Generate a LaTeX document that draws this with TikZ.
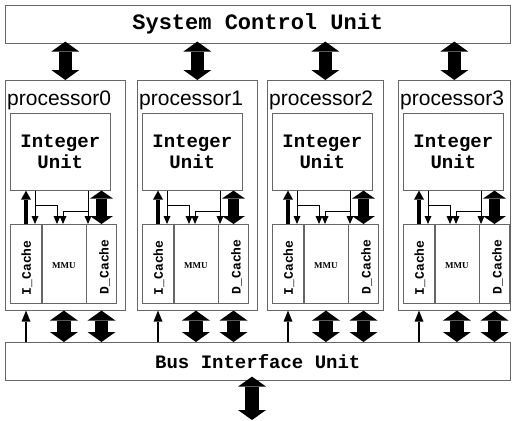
\documentclass[tikz,border=0pt]{standalone}
\usepackage{fontspec}
\setmainfont{Liberation Sans}
\newfontfamily\monofont{Liberation Mono}
\newfontfamily\serfont{Liberation Serif}
\usetikzlibrary{positioning}
\usetikzlibrary{arrows.meta}

\tikzstyle{unit}=[rectangle,draw=black!60,line width=0.6pt,inner sep=0pt]
\tikzstyle{mono}=[font=\monofont\bfseries,inner sep=0pt]
\tikzstyle{fatbus}=[line width=13.5pt,
    {Triangle[width=28pt,length=10pt,line width=0pt]}-{Triangle[width=28pt,length=10pt,line width=0pt]}]
\tikzstyle{databus}=[line width=11pt,
    {Triangle[width=23pt,length=8pt,line width=0pt]}-{Triangle[width=23pt,length=8pt,line width=0pt]}]
\tikzstyle{fetch}=[line width=3.5pt,-{Triangle[width=10pt,length=9pt,line width=0pt]}]
\tikzstyle{addr}=[line width=0.9pt,-{Triangle[width=7pt,length=8pt,line width=0pt]}]
\tikzstyle{req}=[line width=1.8pt,-{Triangle[width=9pt,length=11pt,line width=0pt]}]

\begin{document}
\begin{tikzpicture}[x=1pt,y=-1pt]
  \useasboundingbox (0,0) rectangle (513,420);

  \node[unit, minimum width=505pt, minimum height=38pt, anchor=north west] (scu) at (5,5) {};
  \node[mono, font=\monofont\bfseries\fontsize{22}{24}\selectfont] (scutext) at (scu) {System Control Unit};
  \node[unit, minimum width=505pt, minimum height=38pt, anchor=north west] (biu) at (5,342) {};
  \node[mono, font=\monofont\bfseries\fontsize{19}{21}\selectfont] (biutext) at (biu) {Bus Interface Unit};

  \foreach \i/\L/\w in {0/5/120,1/137/120,2/267/116,3/398/112} {
    % processor frame with its units
    \node[unit, minimum width=\w pt, minimum height=230pt, anchor=north west] (p\i) at (\L,80) {};
    \node[inner sep=0pt, anchor=west, font=\fontsize{21}{23}\selectfont,
          right=2pt of p\i.north west, yshift=-20pt] (lbl\i) {processor\i};
    \node[unit, mono, minimum width=100pt, minimum height=77pt, align=center,
          font=\monofont\bfseries\fontsize{19}{19}\selectfont,
          below right=33pt and 5pt of p\i.north west] (iu\i) {Integer\\[2pt]Unit};
    \node[unit, minimum width=31pt, minimum height=79pt,
          below right=144pt and 5pt of p\i.north west] (ic\i) {};
    \node[unit, minimum width=44pt, minimum height=79pt, right=0pt of ic\i] (mmu\i) {};
    \node[unit, minimum width=30pt, minimum height=79pt, right=0pt of mmu\i] (dc\i) {};
    \node[mono, rotate=90, font=\monofont\bfseries\fontsize{13}{13}\selectfont]
          (ict\i) at ([xshift=1pt,yshift=-4pt]ic\i) {I\_Cache};
    \node[inner sep=0pt, font=\serfont\bfseries\fontsize{9}{9}\selectfont]
          (mmut\i) at ([yshift=-2pt]mmu\i) {MMU};
    \node[mono, rotate=90, font=\monofont\bfseries\fontsize{13}{13}\selectfont]
          (dct\i) at ([xshift=3pt,yshift=-3pt]dc\i) {D\_Cache};

    % junctions of the address lines
    \path (p\i.north west) ++(30,125) coordinate (ja\i) ++(22,0) coordinate (jb\i);
    \path (p\i.north west) ++(83,131) coordinate (jc\i) ++(-25,0) coordinate (jd\i);
    \path (p\i.north west) ++(21,0) coordinate (jf\i);

    \draw[fetch] (ic\i.north -| jf\i) -- (iu\i.south -| jf\i);
    \draw[addr] (iu\i.south -| ja\i) -- (ic\i.north -| ja\i);
    \draw[addr] (ja\i) -- (jb\i) -- (mmu\i.north -| jb\i);
    \draw[addr] (iu\i.south -| jc\i) -- (dc\i.north -| jc\i);
    \draw[addr] (jc\i) -- (jd\i) -- (mmu\i.north -| jd\i);
    \draw[databus] (iu\i.south -| dc\i) -- (dc\i.north);

    % links to the system control and bus interface units
    \draw[fatbus] ([yshift=2pt]scu.south -| p\i) -- (p\i.north);
    \draw[req] (biu.north -| jf\i) -- (p\i.south -| jf\i);
    \draw[fatbus] (p\i.south -| mmu\i) -- (biu.north -| mmu\i);
    \draw[fatbus] (p\i.south -| dc\i) -- (biu.north -| dc\i);
  }

  \coordinate (ext) at (252,420);
  \draw[fatbus] ([yshift=4pt]biu.south -| ext) -- (ext);
\end{tikzpicture}
\end{document}
